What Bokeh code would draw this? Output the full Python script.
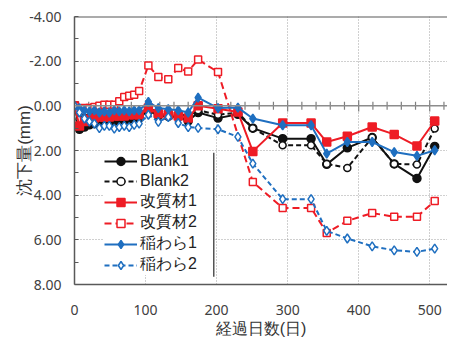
import numpy as np
from bokeh.plotting import figure
from bokeh.models import Range1d, FixedTicker, PrintfTickFormatter, Span, Legend, LegendItem
from bokeh.embed import file_html
from bokeh.resources import INLINE

days = [0, 7, 14, 21, 28, 35, 42, 49, 56, 63, 70, 77, 84, 91, 104, 118, 132, 146, 160, 174, 202, 230,
        251, 293, 333, 355, 384, 419, 450, 482, 507]
blank1 = [0, 1.05, 0.95, 0.85, 0.8, 0.7, 0.75, 0.65, 0.7, 0.6, 0.65, 0.6, 0.55, 0.55, 0.2, 0.45, 0.47, 0.5, 0.68, 0.3, 0.55, 0.38,
          1.0, 1.47, 1.47, 2.62, 1.88, 1.42, 2.6, 3.25, 1.82]
blank2 = [0, 0.6, 0.55, 0.5, 0.45, 0.45, 0.4, 0.4, 0.45, 0.4, 0.4, 0.4, 0.35, 0.35, 0.1, 0.3, 0.3, 0.35, 0.45, 0.2, 0.4, 0.3,
          1.0, 1.77, 1.77, 2.6, 2.78, 1.42, 2.6, 2.63, 1.02]
kaishitsu1 = [0, 0.9, 0.7, 0.6, 0.55, 0.5, 0.5, 0.5, 0.45, 0.45, 0.45, 0.4, 0.4, 0.4, 0.1, 0.35, 0.4, 0.45, 0.55, 0.0, 0.13, 0.28,
              2.04, 0.77, 0.77, 1.62, 1.36, 0.95, 1.28, 1.80, 0.68]
kaishitsu2 = [0, 0.15, 0.1, 0.1, 0.05, 0.0, -0.05, -0.05, -0.05, -0.2, -0.39, -0.45, -0.5, -0.66, -1.81, -1.29, -1.19, -1.69, -1.54, -2.07, -1.51, None,
              3.41, 4.57, 4.57, 5.69, 5.15, 4.80, 4.97, 4.97, 4.26]
inawara1 = [0, 0.1, 0.2, 0.25, 0.2, 0.3, 0.25, 0.3, 0.2, 0.25, 0.2, 0.25, 0.2, 0.2, -0.17, 0.1, 0.15, 0.2, 0.3, -0.37, 0.1, 0.08,
            0.57, 0.87, 0.87, 2.14, 1.62, 1.62, 2.07, 2.24, 1.99]
inawara2 = [0, 0.3, 0.57, 0.7, 0.8, 1.0, 0.9, 0.9, 1.02, 0.95, 0.9, 0.95, 0.85, 0.8, 0.4, 0.72, 0.5, 0.77, 0.95, 0.99, 1.05, 1.39,
            2.59, 4.18, 4.18, 5.60, 5.94, 6.29, 6.47, 6.54, 6.39]

y_ticks = [-4, -2, 0, 2, 4, 6, 8]
y_minor = [-3, -1, 1, 3, 5, 7]
x_ticks = [0, 100, 200, 300, 400, 500]
x_title = "経過日数(日)"
y_title = "沈下量(mm)"

p = figure(width=447, height=343, output_backend="svg", toolbar_location=None,
           x_range=Range1d(0, 525), y_range=Range1d(8, -4),
           min_border_left=74, min_border_top=16, min_border_right=0, min_border_bottom=59)
p.outline_line_color = None
p.background_fill_color = "white"

tick_font = "Noto Sans"
title_font = "Liberation Sans"
axis_col = "#595959"

# y axis
p.yaxis.ticker = FixedTicker(ticks=y_ticks, minor_ticks=y_minor)
p.yaxis.formatter = PrintfTickFormatter(format="%.2f")
p.yaxis.major_tick_in = 4
p.yaxis.major_tick_out = 0
p.yaxis.minor_tick_in = 4
p.yaxis.minor_tick_out = 0
p.yaxis.axis_line_color = axis_col
p.yaxis.axis_line_width = 1.5
p.yaxis.major_tick_line_color = axis_col
p.yaxis.minor_tick_line_color = axis_col
p.yaxis.major_label_text_font = tick_font
p.yaxis.major_label_text_font_size = "14px"
p.yaxis.major_label_text_color = "#404040"
p.yaxis.major_label_standoff = 13
p.yaxis.axis_label = y_title
p.yaxis.axis_label_text_font = title_font
p.yaxis.axis_label_text_font_size = "17px"
p.yaxis.axis_label_text_font_style = "normal"
p.yaxis.axis_label_text_color = "#333333"
p.yaxis.axis_label_standoff = -8

# x axis
p.xaxis.ticker = FixedTicker(ticks=x_ticks, minor_ticks=[])
p.xaxis.major_tick_in = 0
p.xaxis.major_tick_out = 0
p.xaxis.axis_line_color = axis_col
p.xaxis.axis_line_width = 1.5
p.xaxis.major_label_text_font = tick_font
p.xaxis.major_label_text_font_size = "14px"
p.xaxis.major_label_text_color = "#404040"
p.xaxis.major_label_standoff = 20
p.xaxis.axis_label = x_title
p.xaxis.axis_label_text_font = title_font
p.xaxis.axis_label_text_font_size = "16px"
p.xaxis.axis_label_text_font_style = "normal"
p.xaxis.axis_label_text_color = "#333333"
p.xaxis.axis_label_standoff = 2

# grids
for g in (p.xgrid, p.ygrid):
    g.grid_line_color = "#a0a0a0"
    g.grid_line_dash = "1 2"
    g.grid_line_width = 1
p.xgrid.ticker = FixedTicker(ticks=x_ticks)
p.ygrid.ticker = FixedTicker(ticks=y_ticks)

# top border and zero line with ticks
p.add_layout(Span(location=-4, dimension="width", line_color=axis_col, line_width=2))
p.add_layout(Span(location=0, dimension="width", line_color="#8c8c8c", line_width=1.5))
tick_x = np.arange(0, 521, 20)
tick_h = np.where(tick_x % 100 == 0, 0.25, 0.18)
p.segment(x0=tick_x, y0=-tick_h, x1=tick_x, y1=tick_h, line_color="#7f7f7f", line_width=1.2)

black = "#111111"
red = "#ee1c25"
blue = "#1f6fc0"

series = [
    ("Blank1", blank1, black, "solid", "circle", black, 8),
    ("Blank2", blank2, black, "5 3", "circle", "white", 7),
    ("改質材1", kaishitsu1, red, "solid", "square", red, 8),
    ("改質材2", kaishitsu2, red, "7 4", "square", "white", 7),
    ("稲わら1", inawara1, blue, "solid", "diamond", blue, 9),
    ("稲わら2", inawara2, blue, "5 3", "diamond", "white", 9),
]

items = []
for name, vals, col, dash, marker, fill, size in series:
    xs = [d for d, v in zip(days, vals) if v is not None]
    ys = [v for v in vals if v is not None]
    ln = p.line(xs, ys, line_color=col, line_width=2, line_dash=dash)
    sc = p.scatter(xs, ys, marker=marker, size=size, line_color=col, fill_color=fill, line_width=1.5)
    items.append(LegendItem(label=name, renderers=[ln, sc]))

legend = Legend(items=items, location=(30, 9))
legend.label_text_font = title_font
legend.label_text_font_size = "16px"
legend.label_text_color = "#222222"
legend.padding = 0
legend.spacing = 0
legend.margin = 0
legend.label_height = 20
legend.glyph_height = 20
legend.glyph_width = 33
legend.label_standoff = 3
legend.label_width = 73
legend.border_line_color = None
legend.background_fill_color = "white"
legend.background_fill_alpha = 1
p.add_layout(legend, "center")

# dark edge drawn at the right side of the legend box
p.segment(x0=[196], y0=[2.1], x1=[196], y1=[7.65], line_color="#555555", line_width=1.5)

open("out.html", "w").write(file_html(p, INLINE))
